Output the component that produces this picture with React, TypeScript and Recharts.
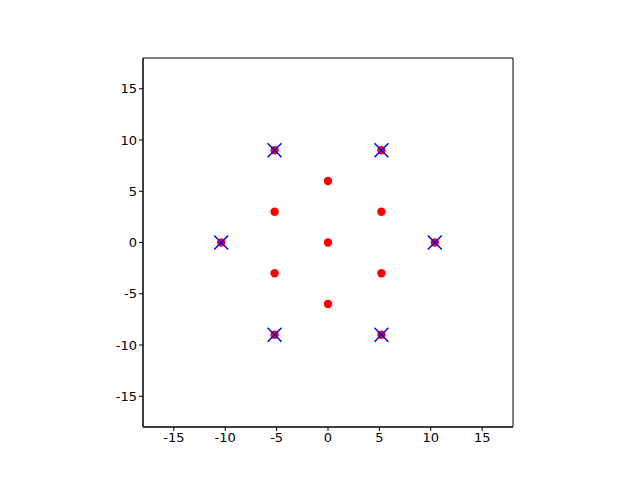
import { ScatterChart, Scatter, XAxis, YAxis, ReferenceArea } from 'recharts'

const S = 3 * Math.sqrt(3)

// lattice points (red dots)
const dotX = [0, 0, 0, S, S, -S, -S, S, S, -S, -S, 2 * S, -2 * S]
const dotY = [0, 6, -6, 3, -3, 3, -3, 9, -9, 9, -9, 0, 0]

// outer ring (blue crosses)
const crossX = [2 * S, -2 * S, S, S, -S, -S]
const crossY = [0, 0, 9, -9, 9, -9]

const ticks = [-15, -10, -5, 0, 5, 10, 15]
const lim = 18

const dots = dotX.map((x, i) => ({ x, y: dotY[i] }))
const crosses = crossX.map((x, i) => ({ x, y: crossY[i] }))

const tickStyle = { fontSize: 13, fill: '#000', fontFamily: 'DejaVu Sans' }

function RedDot(props: any) {
  const { cx, cy } = props
  return <circle cx={cx} cy={cy} r={4.2} fill="#ff0000" />
}

function BlueCross(props: any) {
  const { cx, cy } = props
  const h = 7
  return (
    <g stroke="#0000ff" strokeWidth={1.5}>
      <line x1={cx - h} y1={cy - h} x2={cx + h} y2={cy + h} />
      <line x1={cx - h} y1={cy + h} x2={cx + h} y2={cy - h} />
    </g>
  )
}

export default function App() {
  return (
    <div style={{ position: 'absolute', left: 0, top: 0, background: '#fff' }}>
      <ScatterChart
        width={640}
        height={480}
        margin={{ top: 58, right: 127, bottom: 23, left: 103 }}
      >
        <XAxis
          type="number"
          dataKey="x"
          domain={[-lim, lim]}
          ticks={ticks}
          allowDataOverflow
          height={30}
          tick={tickStyle}
          tickSize={4}
          stroke="#000"
        />
        <YAxis
          type="number"
          dataKey="y"
          domain={[-lim, lim]}
          ticks={ticks}
          allowDataOverflow
          width={40}
          tick={tickStyle}
          tickSize={4}
          stroke="#000"
        />
        {/* axes frame */}
        <ReferenceArea
          x1={-lim}
          x2={lim}
          y1={-lim}
          y2={lim}
          fill="none"
          stroke="#000"
          strokeWidth={1}
        />
        <Scatter data={dots} shape={<RedDot />} isAnimationActive={false} />
        <Scatter data={crosses} shape={<BlueCross />} isAnimationActive={false} />
      </ScatterChart>
    </div>
  )
}
